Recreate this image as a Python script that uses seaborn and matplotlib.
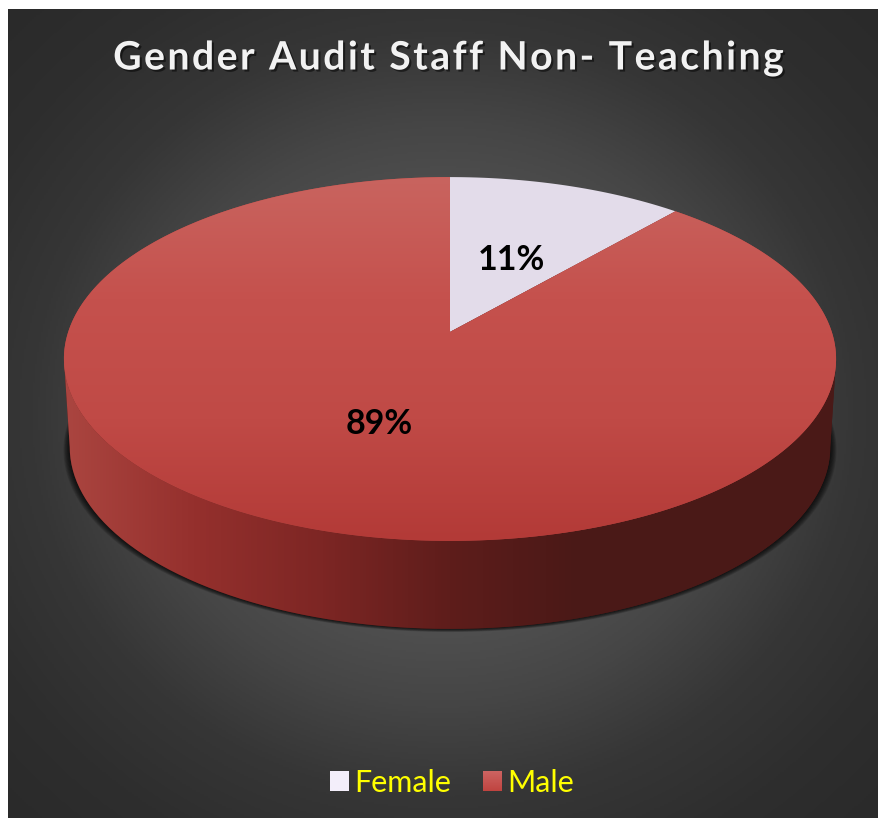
import numpy as np
import matplotlib
matplotlib.use("Agg")
import matplotlib.pyplot as plt
import matplotlib.patheffects as pe
from matplotlib.patches import Patch, PathPatch
from matplotlib.path import Path
from matplotlib.transforms import Affine2D
import seaborn as sns

categories = ["Female", "Male"]
shares = [11.4, 88.6]
title = "Gender Audit Staff Non- Teaching"
colors = ["#e3dcea", "#c04743"]

sns.set_theme(style="white")
plt.rcParams['font.family'] = ['Lato', 'DejaVu Sans']

# perspective of the disc, worked out from the top, bottom and apex in the picture
CX, CY = 450, 332
PERSP = 54 / 364
KX, KY = 381.8, 177.9
DEPTH = 88


def project(xy, shrink=1.0, dy=0.0):
    u, v = xy[:, 0], xy[:, 1]
    w = 1 + PERSP * v
    return np.column_stack([CX + shrink * KX * u / w, CY - KY * v / w + dy])


def flat(wedge):
    # curves to a polygon, scaled up first so the flattening stays fine
    path = Affine2D().scale(2000).transform_path(wedge.get_path())
    return path.to_polygons(closed_only=True)[0] / 2000


def gradient(ax, stops, clip, extent, horizontal=False):
    cmap = sns.blend_palette(stops, as_cmap=True)
    ramp = np.linspace(0, 1, 256)
    ramp = ramp[None, :] if horizontal else ramp[:, None]
    im = ax.imshow(ramp, cmap=cmap, vmin=0, vmax=1, extent=extent, aspect="auto", zorder=clip.get_zorder())
    im.set_clip_path(clip)
    return im


fig = plt.figure(figsize=(8.8, 8.18), dpi=100, facecolor="white")
ax = fig.add_axes([0, 0, 1, 1])

wedges, _, autotexts = ax.pie(shares, colors=colors, startangle=90, counterclock=False, autopct="%.0f%%",
                              pctdistance=0.49, radius=1)
ax.set_aspect("auto")
ax.axis("off")

# radial background
gx, gy = np.meshgrid(np.linspace(8, 878, 435), np.linspace(9, 818, 405))
t = np.sqrt(((gx - 443) / 435) ** 2 + ((gy - 414) / 405) ** 2)
bg_cmap = sns.blend_palette(["#5a5a5a", "#585858", "#525252", "#464646", "#363636", "#2e2e2e", "#2a2a2a"],
                            as_cmap=True)
ax.imshow(t / 1.42, cmap=bg_cmap, vmin=0, vmax=1, extent=(8, 878, 818, 9), aspect="auto", zorder=0)

angles = np.linspace(0, 2 * np.pi, 361)
circle = np.column_stack([np.sin(angles), np.cos(angles)])

# soft shadow below the side wall
for k in range(10):
    ring = project(circle, 0.985 + 0.0018 * k, DEPTH + 0.35 * k)
    ax.add_patch(PathPatch(Path(ring), fc="black", ec="none", alpha=0.11, zorder=1))

# side wall: front of the top edge joined to the front of the base edge, between the widest points
widest = np.arccos(-PERSP)
front = np.linspace(widest, 2 * np.pi - widest, 181)
rim = np.column_stack([np.sin(front), np.cos(front)])
wall = np.vstack([project(rim), project(rim, 0.985, DEPTH)[::-1]])
wall_patch = PathPatch(Path(wall), fc="#4a1917", ec="none", zorder=2)
ax.add_patch(wall_patch)
gradient(ax, ["#ab4540", "#95302d", "#7d2624", "#5e1d1b", "#4a1917", "#4a1917", "#4a1917"], wall_patch,
         (64, 836, 818, 0), horizontal=True)

# top face, projected from the pie's own wedges
for wedge, color in zip(wedges, colors):
    wedge.set_visible(False)
    face = PathPatch(Path(project(flat(wedge))), fc=color, ec="none", zorder=3)
    ax.add_patch(face)
    if color == colors[1]:
        gradient(ax, ["#c9645f", "#c5514d", "#c04a46", "#b33a37"], face, (0, 880, 541, 177))

for text in autotexts:
    text.set_position(project(np.array([text.get_position()]), dy=4)[0])
    text.set(color="black", fontsize=24.5, fontweight="bold", zorder=5)

ax.text(449, 58, "\u200a".join(title), ha="center", va="center", color="#f2f2f2", fontsize=28.2, fontweight="bold",
        zorder=5, path_effects=[pe.withSimplePatchShadow(offset=(1.5, -1.5), shadow_rgbFace="black", alpha=0.5)])

handles = [Patch(fc="#f3eefa", ec="none"), Patch(fc=colors[1], ec="none")]
legend = ax.legend(handles, categories, ncol=2, loc="center", bbox_to_anchor=(452 / 880, 1 - 783 / 818), frameon=False,
                   fontsize=22, labelcolor="#ffff00", handlelength=0.62, handleheight=0.62, handletextpad=0.18,
                   columnspacing=1.04)

ax.set_xlim(0, 880)
ax.set_ylim(818, 0)

# male swatch carries the same light-to-dark fade as the disc
fig.canvas.draw()
box = legend.legend_handles[1].get_window_extent().transformed(ax.transData.inverted())
swatch = PathPatch(Path.unit_rectangle().transformed(Affine2D().scale(box.width, abs(box.height)).translate(box.x0, min(box.y0, box.y1))),
                   fc="none", ec="none", zorder=6)
ax.add_patch(swatch)
gradient(ax, ["#cd6462", "#c04440"], swatch, (box.x0, box.x1, max(box.y0, box.y1), min(box.y0, box.y1)))
ax.set_xlim(0, 880)
ax.set_ylim(818, 0)

plt.savefig("out.png", dpi=100, facecolor=fig.get_facecolor())
